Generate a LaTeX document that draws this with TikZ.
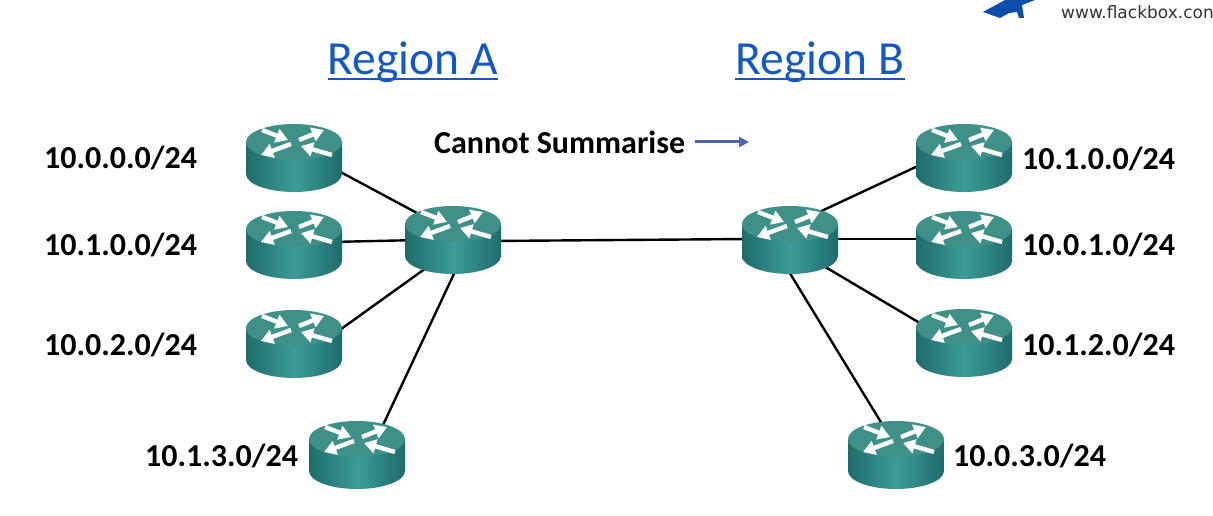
\documentclass[tikz,border=0pt]{standalone}
\usepackage{fontspec}
\setmainfont{Carlito}
\newfontfamily\logofont{DejaVu Sans}
\usetikzlibrary{calc,arrows.meta}
\definecolor{tealtop}{HTML}{3E9088}
\definecolor{tealedge}{HTML}{1F6B6C}
\definecolor{tealmid}{HTML}{3C9C98}
\definecolor{linkblue}{HTML}{1558C0}
\definecolor{arrowblue}{HTML}{4A66AC}
\definecolor{logoblue}{HTML}{0B4DA8}
\tikzset{
  x=1pt,y=-1pt,
  wire/.style={line width=2.4pt,black},
  hook/.style={inner sep=0pt,minimum width=96pt,minimum height=68pt},
  regiontitle/.style={inner sep=0pt,text=linkblue,font=\fontsize{47.5}{50}\selectfont},
  netlabel/.style={inner sep=0pt,font=\bfseries\fontsize{32}{36}\selectfont},
  whitearrow/.style={white,line width=4.4pt,-{Triangle[length=12pt,width=14pt]}},
  router/.pic={
    \path[left color=tealedge,right color=tealedge,middle color=tealmid]
      (-48,-16) -- (-48,16) arc[x radius=48,y radius=-18,start angle=180,end angle=360]
      -- (48,-16) -- cycle;
    \fill[tealtop] (0,-16) ellipse[x radius=48,y radius=18];
    \draw[whitearrow] (-32,-28) -- (-6,-18);
    \draw[whitearrow] (5,-18) -- (30,-28);
    \draw[whitearrow] (-3,-14) -- (-33,-3);
    \draw[whitearrow] (38,-3) -- (7,-12);
  }
}
\begin{document}
\begin{tikzpicture}
\clip (0,0) rectangle (1213,516);
\useasboundingbox (0,0) rectangle (1213,516);
\fill[white] (0,0) rectangle (1213,516);
% hooks
\node[hook] (la) at (294,158) {};
\node[hook] (lb) at (294,245) {};
\node[hook] (lc) at (294,344) {};
\node[hook] (ld) at (357,455) {};
\node[hook] (lh) at (453,240) {};
\node[hook] (rh) at (790,240) {};
\node[hook] (ra) at (964,158) {};
\node[hook] (rb) at (964,245) {};
\node[hook] (rc) at (964,343) {};
\node[hook] (rd) at (896,455) {};
% connectors
\draw[wire] ($(la.center)+(26,3)$) -- ($(lh.center)+(-23,-20)$);
\draw[wire] ($(lb.center)+(36,-3)$) -- ($(lh.center)+(-33,0)$);
\draw[wire] ($(lc.center)+(36,-7)$) -- ($(lh.center)+(-13,18)$);
\draw[wire] ($(ld.center)+(18,-13)$) -- ($(lh.center)+(7,21)$);
\draw[wire] ($(lh.center)+(37,1)$) -- ($(rh.center)+(-40,-1)$);
\draw[wire] ($(rh.center)+(10,-19)$) -- ($(ra.center)+(-29,0)$);
\draw[wire] ($(rh.center)+(20,-1)$) -- ($(rb.center)+(-24,-6)$);
\draw[wire] ($(rh.center)+(10,12)$) -- ($(rc.center)+(-29,-11)$);
\draw[wire] ($(rh.center)+(-10,17)$) -- ($(rd.center)+(-6,-18)$);
% routers
\foreach \p in {la,lb,lc,ld,lh,rh,ra,rb,rc,rd} \pic at (\p.center) {router};
% titles
\node[regiontitle] (ta) at (413,62) {Region A};
\node[regiontitle] (tb) at (820,62) {Region B};
\draw[linkblue,line width=2pt] ($(ta.center)+(-85,17)$) -- ($(ta.center)+(85,17)$);
\draw[linkblue,line width=2pt] ($(tb.center)+(-85,17)$) -- ($(tb.center)+(85,17)$);
% labels
\node[netlabel,anchor=west] at (44,158) {10.0.0.0/24};
\node[netlabel,anchor=west] at (44,245) {10.1.0.0/24};
\node[netlabel,anchor=west] at (44,345) {10.0.2.0/24};
\node[netlabel,anchor=west] at (145,456) {10.1.3.0/24};
\node[netlabel,anchor=west] at (1022,159) {10.1.0.0/24};
\node[netlabel,anchor=west] at (1022,245) {10.0.1.0/24};
\node[netlabel,anchor=west] at (1022,345) {10.1.2.0/24};
\node[netlabel,anchor=west] at (953,456) {10.0.3.0/24};
\node[netlabel,anchor=west] (cs) at (434,142) {Cannot Summarise};
\coordinate (csend) at (749,142);
\draw[arrowblue,line width=3pt,-{Triangle[length=10pt,width=10pt]}] ($(cs.east)+(10,0)$) -- (csend);
% logo
\fill[logoblue] (983,12) -- (1005,0) -- (1035,0) -- (1022,5) -- (1024,18) -- (1019,18) -- (1017,12) -- (1009,13) -- (1000,18) -- cycle;
\node[inner sep=0pt,anchor=west,text=black!80,font=\logofont\fontsize{17}{19}\selectfont] at (1061,12) {www.flackbox.con};
\end{tikzpicture}
\end{document}
